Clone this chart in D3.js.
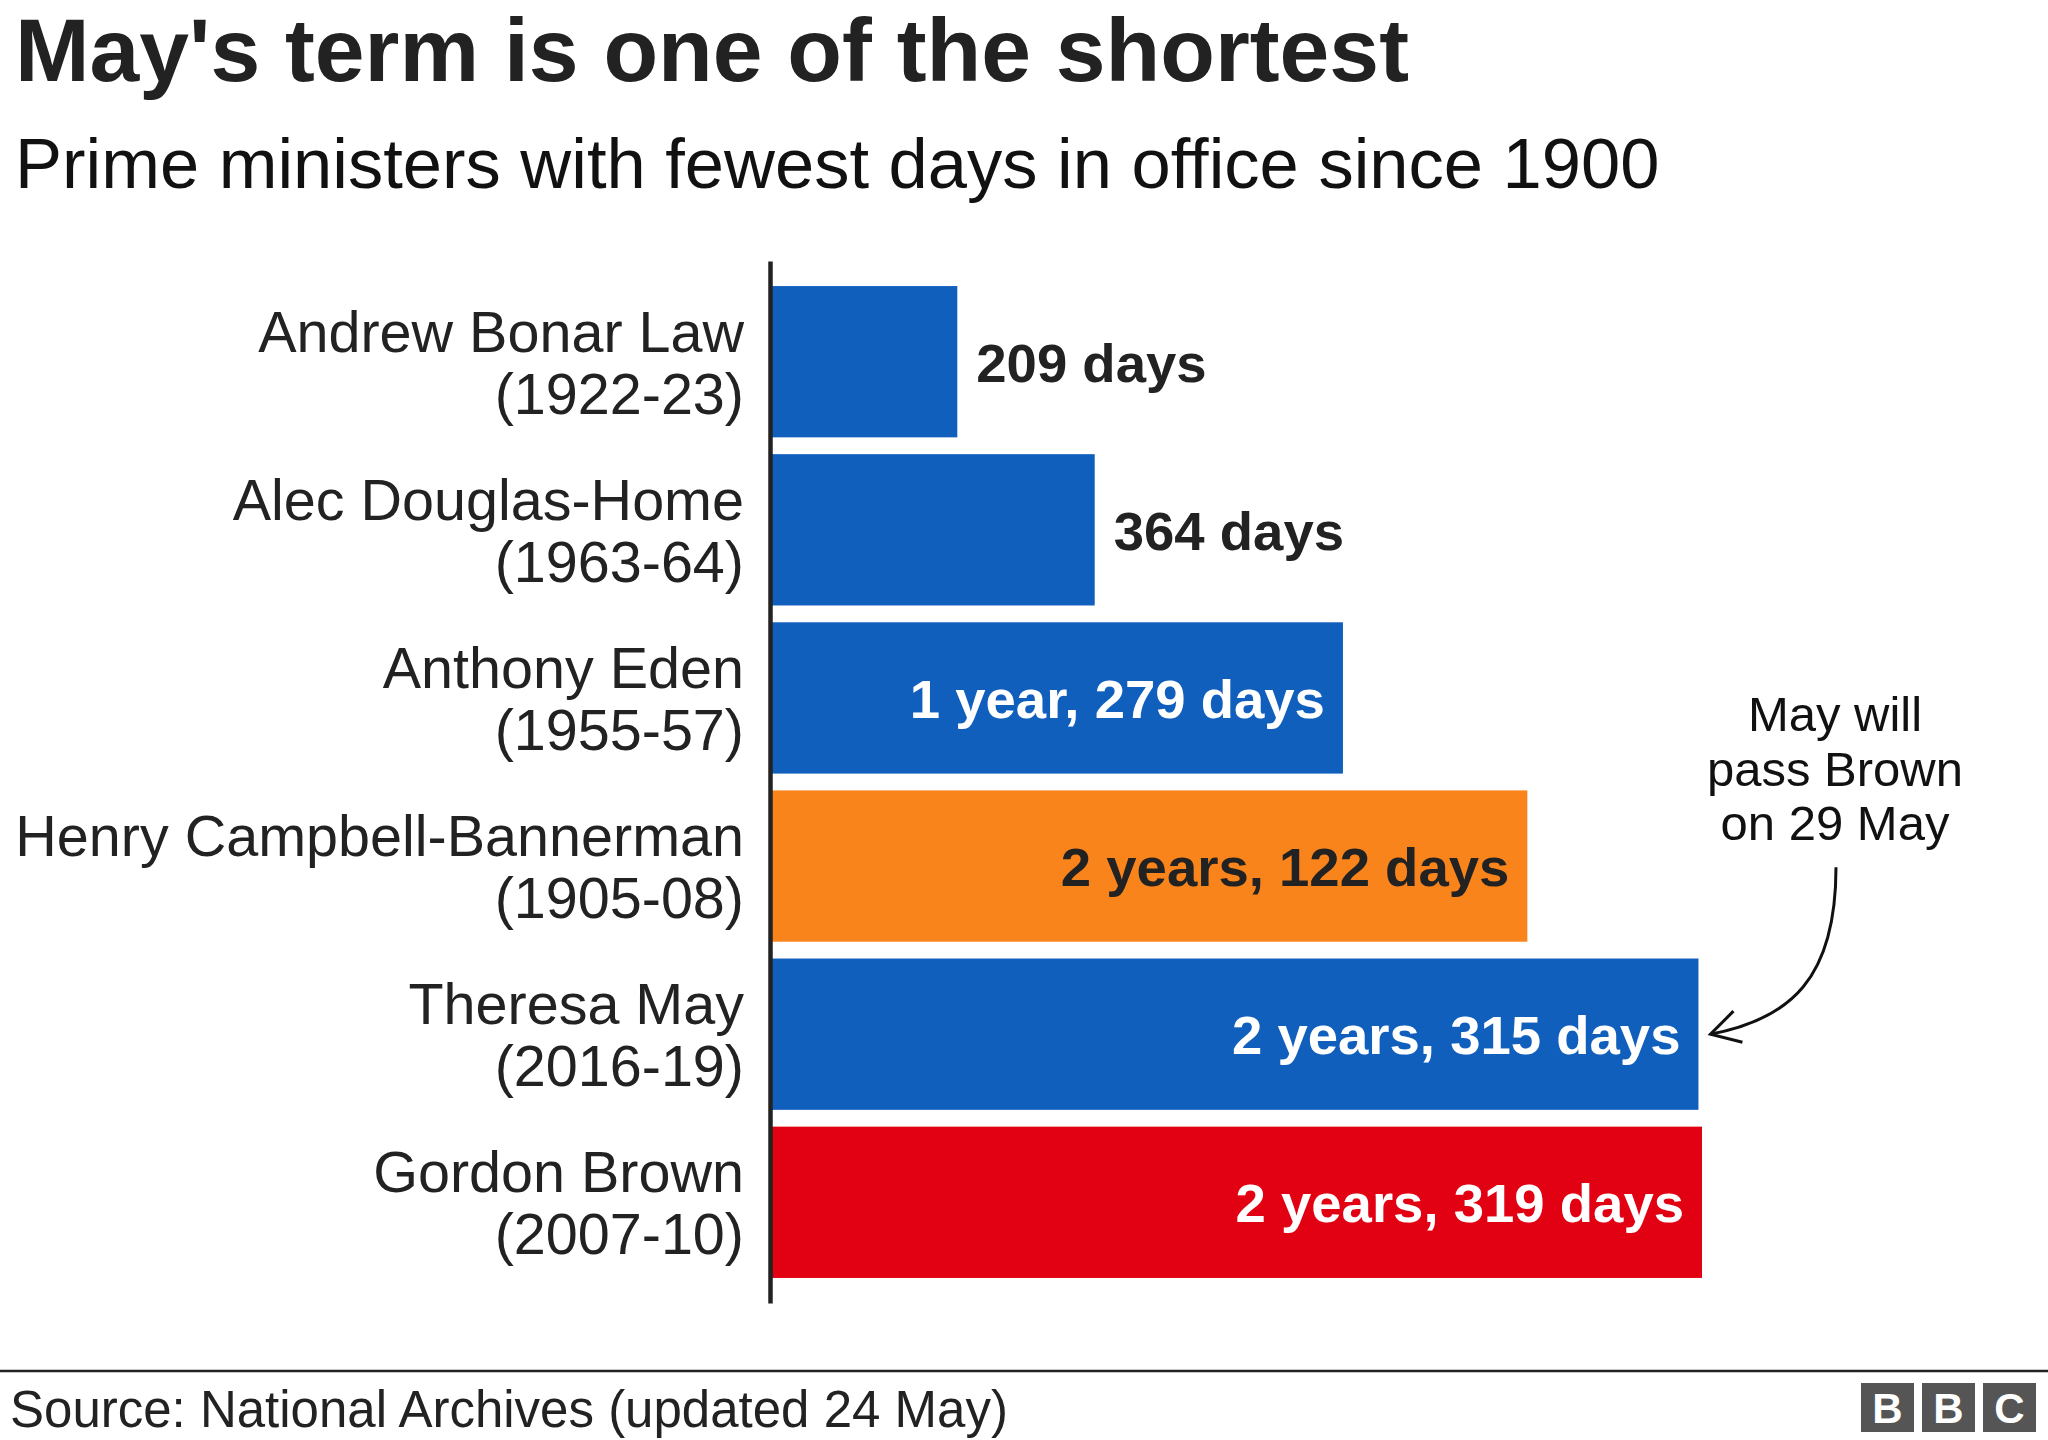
<!DOCTYPE html>
<html>
<head>
<meta charset="utf-8">
<script src="https://cdn.jsdelivr.net/npm/d3@7"></script>
<style>
  body { margin: 0; background: #fff; }
  svg { display: block; font-family: "Liberation Sans", Arial, Helvetica, sans-serif; }
</style>
</head>
<body>
<div id="chart"></div>
<script>
// Data
const names = ['Andrew Bonar Law', 'Alec Douglas-Home', 'Anthony Eden',
    'Henry Campbell-Bannerman', 'Theresa May', 'Gordon Brown'];
const terms = ['(1922-23)', '(1963-64)', '(1955-57)', '(1905-08)', '(2016-19)', '(2007-10)'];
const daysInOffice = [209, 364, 644, 852, 1045, 1049];
const valueLabels = ['209 days', '364 days', '1 year, 279 days',
    '2 years, 122 days', '2 years, 315 days', '2 years, 319 days'];
const noteLines = ['May will', 'pass Brown', 'on 29 May'];

// Styles
const BLUE = '#115fbd';
const barColors = {
    'Henry Campbell-Bannerman': '#fa841c',
    'Gordon Brown': '#e20013'
};
const darkText = '#222';

const width = 2048;
const height = 1440;

const svg = d3.select('#chart')
    .append('svg')
    .attr('width', width)
    .attr('height', height);

svg.append('rect')
    .attr('width', width)
    .attr('height', height)
    .attr('fill', '#fff');

// Title + subtitle
svg.append('text')
    .attr('x', 15)
    .attr('y', 81)
    .style('font-size', '89.5px')
    .style('font-weight', 'bold')
    .attr('fill', darkText)
    .text("May's term is one of the shortest");

svg.append('text')
    .attr('x', 15)
    .attr('y', 188)
    .style('font-size', '70.5px')
    .attr('fill', '#111')
    .text('Prime ministers with fewest days in office since 1900');

// Scales
const y = d3.scaleBand()
    .domain(names)
    .range([261, 1303])
    .paddingInner(0.1)
    .paddingOuter(0.149);

const x = d3.scaleLinear()
    .domain([0, d3.max(daysInOffice)])
    .range([772, 1702]);

const rows = names.map((name, i) => ({
    name,
    term: terms[i],
    days: daysInOffice[i],
    label: valueLabels[i]
}));

// Bars
svg.selectAll('rect.bar')
    .data(rows)
    .enter()
    .append('rect')
    .attr('class', 'bar')
    .attr('x', x(0))
    .attr('y', d => y(d.name))
    .attr('width', d => x(d.days) - x(0))
    .attr('height', y.bandwidth())
    .attr('fill', d => barColors[d.name] || BLUE);

// Category axis (names on two lines)
const axis = svg.append('g')
    .attr('transform', `translate(${x(0) - 2},0)`)
    .call(d3.axisLeft(y).tickSize(0).tickSizeOuter(0).tickPadding(26));

axis.select('.domain')
    .attr('stroke', '#222')
    .attr('stroke-width', 4.5);

axis.selectAll('.tick text')
    .attr('dy', null)
    .attr('fill', darkText)
    .style('font-size', '57.5px')
    .style('font-family', '"Liberation Sans", Arial, Helvetica, sans-serif')
    .text(null)
    .each(function(name, i) {
        const t = d3.select(this);
        t.append('tspan').attr('x', -26).attr('y', -10).text(name);
        t.append('tspan').attr('x', -26).attr('y', 52).text(terms[i]);
    });

// Value labels: outside short bars, inside long bars
const labels = svg.selectAll('text.value')
    .data(rows)
    .enter()
    .append('text')
    .attr('class', 'value')
    .style('font-size', '54.5px')
    .style('font-weight', 'bold')
    .attr('y', d => y(d.name) + y.bandwidth() / 2 + 20)
    .text(d => d.label);

labels.each(function(d) {
    const t = d3.select(this);
    const textW = this.getComputedTextLength();
    const barW = x(d.days) - x(0);
    if (barW > textW + 100) {
        t.attr('x', x(d.days) - 18)
            .attr('text-anchor', 'end')
            .attr('fill', barColors[d.name] === '#fa841c' ? darkText : '#fff');
    } else {
        t.attr('x', x(d.days) + 19)
            .attr('text-anchor', 'start')
            .attr('fill', darkText);
    }
});

// Annotation
const noteX = x(d3.max(daysInOffice)) + 133;
const noteG = svg.append('g');
noteG.selectAll('text')
    .data(noteLines)
    .enter()
    .append('text')
    .attr('x', noteX)
    .attr('y', (d, i) => 731 + i * 54.5)
    .attr('text-anchor', 'middle')
    .style('font-size', '49px')
    .attr('fill', '#111')
    .text(d => d);

const tipX = x(daysInOffice[4]) + 12;
const tipY = y('Theresa May') + y.bandwidth() / 2;
const startX = noteX + 1;
const startY = tipY - 167;

noteG.append('path')
    .attr('d', `M${startX},${startY} C${startX},${startY + 112} ${startX - 46},${tipY - 15} ${tipX},${tipY}`)
    .attr('fill', 'none')
    .attr('stroke', '#111')
    .attr('stroke-width', 3);

noteG.append('path')
    .attr('d', `M${tipX + 23},${tipY - 23} L${tipX},${tipY} L${tipX + 32},${tipY + 8}`)
    .attr('fill', 'none')
    .attr('stroke', '#111')
    .attr('stroke-width', 3);

// Footer
svg.append('line')
    .attr('x1', 0)
    .attr('x2', width)
    .attr('y1', 1371)
    .attr('y2', 1371)
    .attr('stroke', '#222')
    .attr('stroke-width', 2.5);

svg.append('text')
    .attr('x', 10)
    .attr('y', 1427)
    .style('font-size', '51px')
    .attr('fill', darkText)
    .text('Source: National Archives (updated 24 May)');

const logo = svg.append('g').attr('transform', 'translate(1861,1383)');
['B', 'B', 'C'].forEach((letter, i) => {
    logo.append('rect')
        .attr('x', i * 61)
        .attr('width', 53)
        .attr('height', 49)
        .attr('fill', '#555');
    logo.append('text')
        .attr('x', i * 61 + 26.5)
        .attr('y', 40)
        .attr('text-anchor', 'middle')
        .style('font-size', '42px')
        .style('font-weight', 'bold')
        .attr('fill', '#fff')
        .text(letter);
});
</script>
</body>
</html>
